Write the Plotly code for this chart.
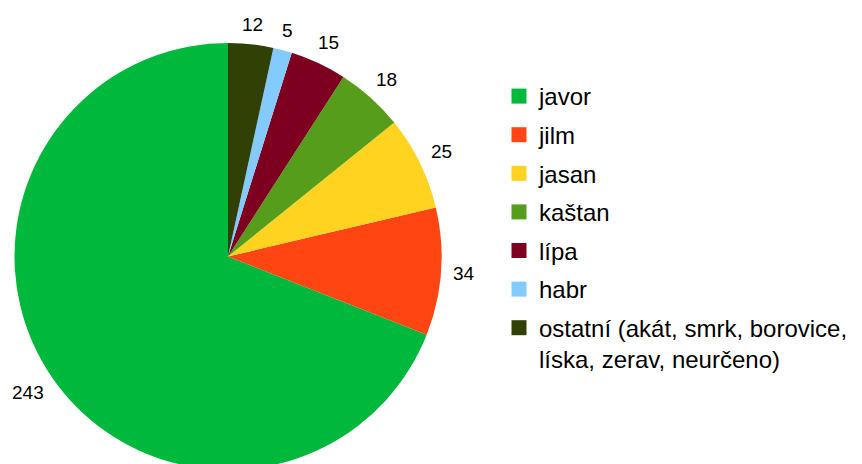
import math
import plotly.graph_objects as go

labels = ["javor", "jilm", "jasan", "kaštan", "lípa", "habr",
          "ostatní (akát, smrk, borovice,<br>líska, zerav, neurčeno)"]
values = [243, 34, 25, 18, 15, 5, 12]
colors = ["#00B83C", "#FF4512", "#FFD320", "#579D1C", "#7E0021", "#83CAFF", "#314004"]

W, H = 862, 470
MT, MB = 43, 0
plot_h = H - MT - MB
R = plot_h / 2
CX, CY = 228, MT + R
LABEL_FS = 19
total = sum(values)

fig = go.Figure(go.Pie(
    labels=labels, values=values, marker=dict(colors=colors, line=dict(width=0)),
    sort=False, direction="counterclockwise",
    rotation=-values[0] / total * 360,  # plotly ends the first ccw slice at the rotation angle
    textinfo="none", hoverinfo="label+value", showlegend=False,
    domain=dict(x=[0, 2 * CX / W], y=[0, 1]),
))

# legend entries (square swatches)
for i, (lab, col) in enumerate(zip(labels, colors)):
    fig.add_trace(go.Scatter(
        x=[None], y=[None], mode="markers", name=lab, legendgroup=f"g{i}",
        marker=dict(symbol="square", size=15, color=col, line=dict(width=0)),
        hoverinfo="skip",
    ))

# value labels around the pie, positioned from the data
cum = 0
annotations = []
for v in values:
    mid = (cum + v / 2) / total * 2 * math.pi  # counterclockwise from top
    cum += v
    sx, sy = -math.sin(mid), math.cos(mid)  # sy upward
    txt = str(v)
    hw = len(txt) * 0.556 * LABEL_FS / 2
    hh = 0.72 * LABEL_FS / 2
    r = R + 12 + hw * abs(sx) + hh * abs(sy)
    px = CX + r * sx
    py = CY - r * sy
    annotations.append(dict(
        x=px / W, y=1 - (py - MT) / plot_h, xref="paper", yref="paper",
        text=txt, showarrow=False, xanchor="center", yanchor="middle",
        font=dict(size=LABEL_FS, color="#000000"),
    ))

fig.update_layout(
    width=W, height=H,
    margin=dict(l=0, r=0, t=MT, b=MB),
    paper_bgcolor="white", plot_bgcolor="white",
    font=dict(family="Liberation Sans, Arial, sans-serif", color="#000000"),
    showlegend=True,
    xaxis=dict(visible=False), yaxis=dict(visible=False),
    legend=dict(x=499 / W, xanchor="left", y=1 - (74 - MT) / plot_h, yanchor="top",
                font=dict(size=24), bgcolor="rgba(0,0,0,0)", traceorder="grouped",
                tracegroupgap=4.4, valign="top", itemclick=False, itemdoubleclick=False),
    annotations=annotations,
)

fig.write_html("out.html", config={"displayModeBar": False},
               post_script="document.body.style.margin='0';document.body.style.overflow='hidden';")
